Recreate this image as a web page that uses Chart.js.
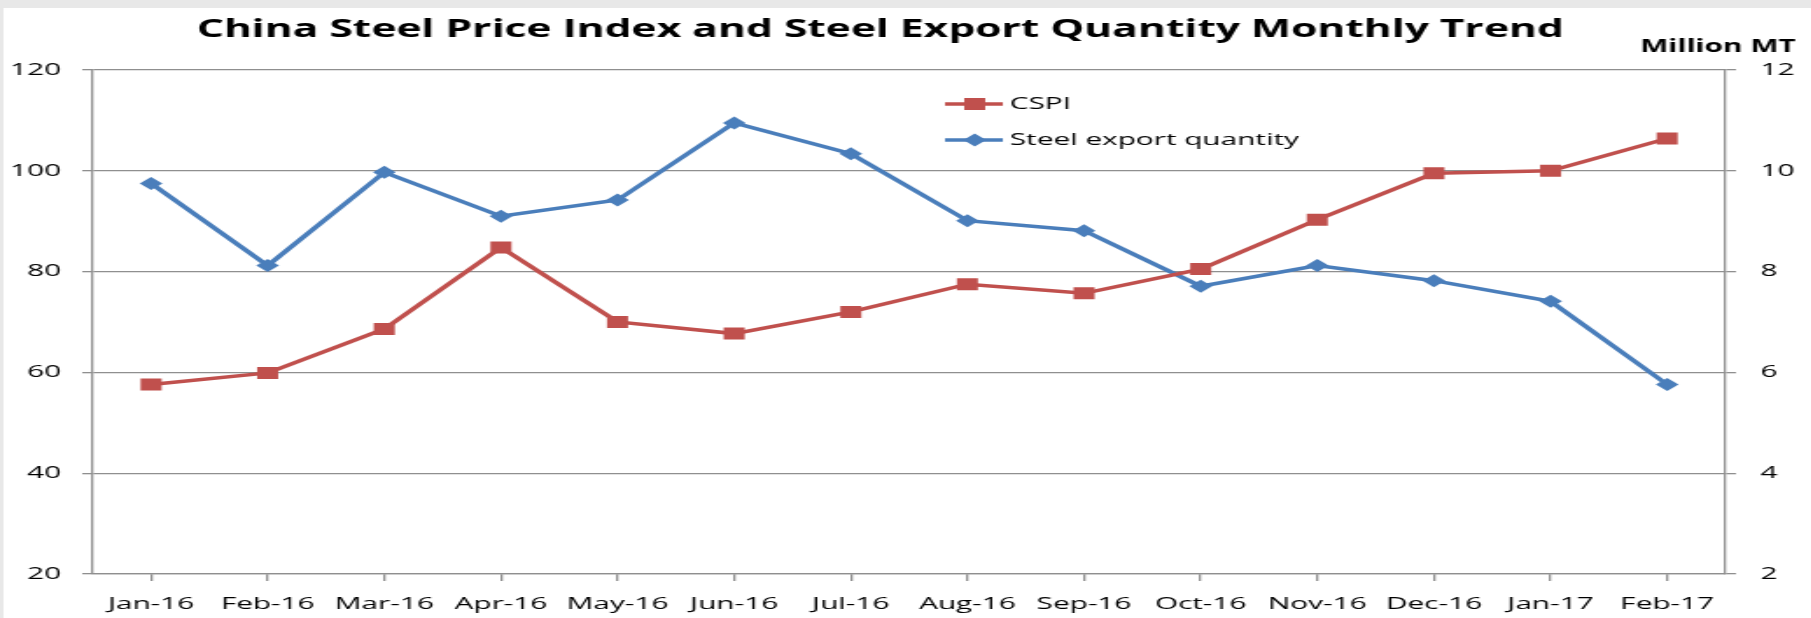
<!DOCTYPE html>
<html>
<head>
<meta charset="utf-8">
<script src="https://cdn.jsdelivr.net/npm/chart.js@4/dist/chart.umd.min.js"></script>
<style>
  html, body { margin: 0; padding: 0; background: #e8e8e8; overflow: hidden; }
  #wrap { width: 1035px; height: 618px; transform: scaleX(1.75); transform-origin: 0 0; }
</style>
</head>
<body>
<div id="wrap"><canvas id="myChart" width="1035" height="618"></canvas></div>
<script>
var months = ["Jan-16", "Feb-16", "Mar-16", "Apr-16", "May-16", "Jun-16", "Jul-16",
              "Aug-16", "Sep-16", "Oct-16", "Nov-16", "Dec-16", "Jan-17", "Feb-17"];
var cspi = [57.6, 59.9, 68.6, 84.8, 70.0, 67.7, 72.0, 77.5, 75.7, 80.5, 90.3, 99.5, 100.0, 106.4];
var exportQty = [9.75, 8.12, 9.97, 9.10, 9.42, 10.95, 10.34, 9.01, 8.81, 7.71, 8.12, 7.82, 7.41, 5.76];
var leftTicks = [20, 40, 60, 80, 100, 120];
var rightTicks = [2, 4, 6, 8, 10, 12];

var titleText = "China Steel Price Index and Steel Export Quantity Monthly Trend";
var unitText = "Million MT";

var RED = "#C0504D";
var BLUE = "#4A7EBB";
var GRID = "#8f8f8f";
var FONT = "'Open Sans', sans-serif";

//Background, title, unit label and the legend box
var decor = {
    id: 'decor',
    beforeDraw: function (chart) {
        var ctx = chart.ctx;
        ctx.save();
        ctx.fillStyle = "#e8e8e8";
        ctx.fillRect(0, 0, chart.width, chart.height);
        ctx.fillStyle = "#ffffff";
        ctx.fillRect(2, 8, chart.width, chart.height);
        ctx.restore();
    },
    afterDraw: function (chart) {
        var ctx = chart.ctx;
        ctx.save();
        ctx.fillStyle = "#000";
        ctx.textBaseline = "middle";
        ctx.textAlign = "center";
        ctx.font = "bold 24.3px " + FONT;
        ctx.fillText(titleText, 503, 30);
        ctx.textAlign = "right";
        ctx.font = "bold 17px " + FONT;
        ctx.fillText(unitText, 1026, 47);

        // legend
        var rows = [
            { label: "CSPI", color: RED, style: "rect", y: 104 },
            { label: "Steel export quantity", color: BLUE, style: "diamond", y: 140 }
        ];
        rows.forEach(function (r) {
            ctx.strokeStyle = r.color;
            ctx.fillStyle = r.color;
            ctx.lineWidth = 3.5;
            ctx.beginPath();
            ctx.moveTo(540, r.y);
            ctx.lineTo(573, r.y);
            ctx.stroke();
            ctx.beginPath();
            if (r.style === "rect") {
                ctx.rect(557 - 6, r.y - 6, 12, 12);
            } else {
                ctx.moveTo(557 - 6.5, r.y);
                ctx.lineTo(557, r.y - 6.5);
                ctx.lineTo(557 + 6.5, r.y);
                ctx.lineTo(557, r.y + 6.5);
                ctx.closePath();
            }
            ctx.fill();
            ctx.fillStyle = "#000";
            ctx.textAlign = "left";
            ctx.font = "17px " + FONT;
            ctx.fillText(r.label, 577, r.y);
        });
        ctx.restore();
    }
};

var ctx = document.getElementById("myChart").getContext("2d");

var chart = new Chart(ctx, {
    type: 'line',
    data: {
        labels: months,
        datasets: [
            {
                label: "CSPI",
                data: cspi,
                yAxisID: 'y',
                borderColor: RED,
                backgroundColor: RED,
                borderWidth: 3.5,
                pointStyle: 'rect',
                pointRadius: 8.5,
                pointHoverRadius: 8.5,
                pointBorderWidth: 0,
                tension: 0
            },
            {
                label: "Steel export quantity",
                data: exportQty,
                yAxisID: 'y1',
                borderColor: BLUE,
                backgroundColor: BLUE,
                borderWidth: 3.5,
                pointStyle: 'rectRot',
                pointRadius: 6.5,
                pointHoverRadius: 6.5,
                pointBorderWidth: 0,
                tension: 0
            }
        ]
    },
    options: {
        responsive: false,
        animation: false,
        devicePixelRatio: 1,
        layout: { padding: { top: 70, left: 0, right: 0, bottom: 0 } },
        plugins: {
            legend: { display: false },
            title: { display: false },
            tooltip: { enabled: false }
        },
        scales: {
            x: {
                offset: true,
                afterFit: function (s) { s.height = 44; },
                grid: { drawOnChartArea: false, offset: false, tickLength: 7, color: GRID, lineWidth: 1.3 },
                border: { display: true, color: GRID, width: 1.3 },
                ticks: { color: "#000", padding: 13, maxRotation: 0, autoSkip: false, font: { family: FONT, size: 17 } }
            },
            y: {
                position: 'left',
                min: 20,
                max: 120,
                afterFit: function (s) { s.width = 53; },
                afterBuildTicks: function (s) { s.ticks = leftTicks.map(function (v) { return { value: v }; }); },
                grid: { color: GRID, lineWidth: 1.3, tickLength: 6 },
                border: { display: true, color: GRID, width: 1.3 },
                ticks: { color: "#000", padding: 12, font: { family: FONT, size: 17 } }
            },
            y1: {
                position: 'right',
                min: 2,
                max: 12,
                afterFit: function (s) { s.width = 49; },
                afterBuildTicks: function (s) { s.ticks = rightTicks.map(function (v) { return { value: v }; }); },
                grid: { drawOnChartArea: false, color: GRID, lineWidth: 1.3, tickLength: 6 },
                border: { display: true, color: GRID, width: 1.3 },
                ticks: { color: "#000", padding: 14, font: { family: FONT, size: 17 } }
            }
        }
    },
    plugins: [decor]
});
</script>
</body>
</html>
